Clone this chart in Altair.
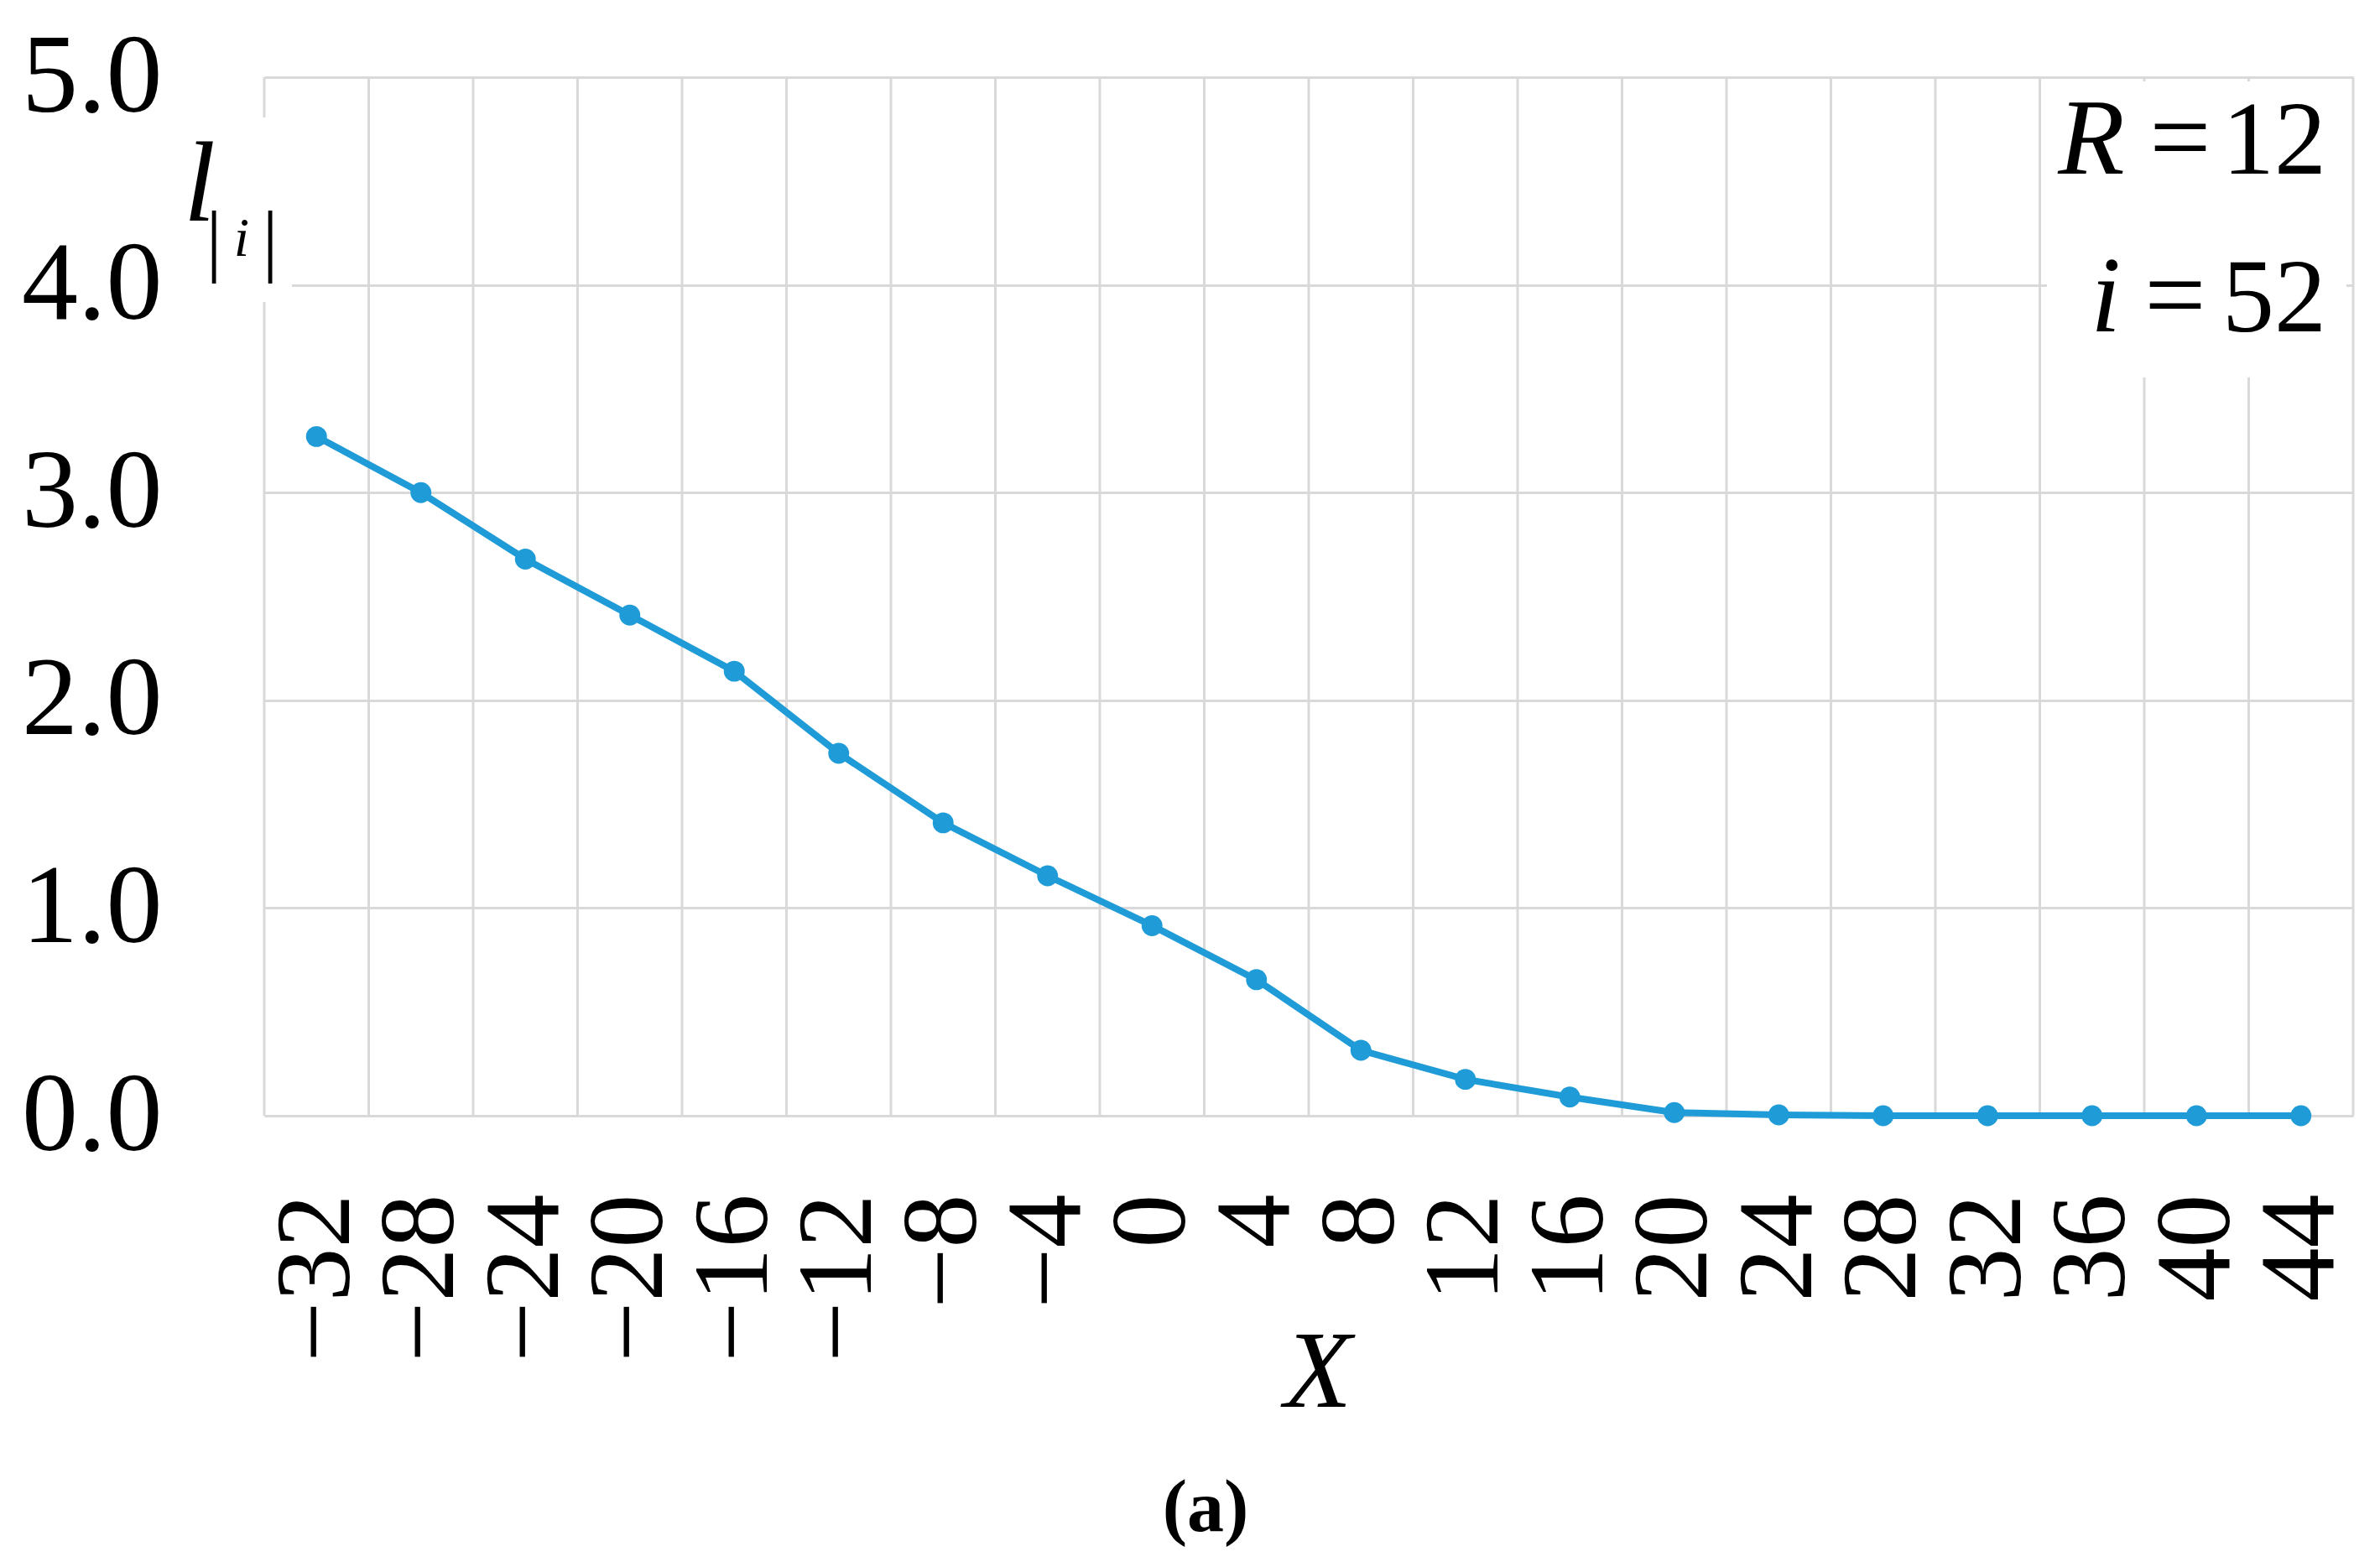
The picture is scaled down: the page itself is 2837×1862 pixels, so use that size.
import altair as alt
import pandas as pd

# Data
x_vals = [-32, -28, -24, -20, -16, -12, -8, -4, 0, 4, 8, 12, 16, 20, 24, 28, 32, 36, 40, 44]
l_vals = [3.27, 3.00, 2.68, 2.41, 2.14, 1.745, 1.41, 1.155, 0.915, 0.655, 0.315, 0.175,
          0.09, 0.015, 0.004, 0.0, 0.0, 0.0, 0.0, 0.0]
y_ticks = [0, 1, 2, 3, 4, 5]

# Band boundaries (gridlines lie halfway between categories)
half_step = 2
grid_x = [v - half_step for v in x_vals] + [x_vals[-1] + half_step]

df = pd.DataFrame({"x": x_vals, "l": l_vals})
grid_df = pd.DataFrame({"gx": grid_x})

FONT = "Liberation Serif"
BLUE = "#1f9bd7"
GRID = "#d9d9d9"

xscale = alt.Scale(domain=[grid_x[0], grid_x[-1]], nice=False, zero=False)
yscale = alt.Scale(domain=[0, 5], nice=False)

xaxis = alt.Axis(values=x_vals, format="d", labelAngle=-90, labelFont=FONT,
                 labelFontSize=128, labelColor="black", labelPadding=93,
                 ticks=False, tickSize=0, domain=False, grid=False, title=None,
                 labelOverlap=False, labelFlush=False, labelLimit=0)
yaxis = alt.Axis(values=y_ticks, format=".1f", labelFont=FONT, labelFontSize=134,
                 labelColor="black", labelPadding=122, ticks=False, tickSize=0,
                 domain=False, grid=True, gridColor=GRID, gridWidth=3, title=None,
                 labelFlush=False, labelLimit=0)

base = alt.Chart(df)

vgrid = alt.Chart(grid_df).mark_rule(color=GRID, strokeWidth=3).encode(
    x=alt.X("gx:Q", scale=xscale, axis=xaxis)
)

line = base.mark_line(color=BLUE, strokeWidth=8).encode(
    x=alt.X("x:Q", scale=xscale, axis=xaxis),
    y=alt.Y("l:Q", scale=yscale, axis=yaxis),
)
pts = base.mark_circle(color=BLUE, opacity=1, size=620).encode(
    x=alt.X("x:Q", scale=xscale, axis=xaxis),
    y=alt.Y("l:Q", scale=yscale, axis=yaxis),
)

one = alt.Data(values=[{"a": 1}])

def box(x, x2, y, y2):
    return alt.Chart(one).mark_rect(color="white").encode(
        x=alt.value(x), x2=alt.value(x2), y=alt.value(y), y2=alt.value(y2))

def txt(s, x, y, size, style="normal", weight="normal", align="left"):
    return alt.Chart(one).mark_text(
        text=s, font=FONT, fontSize=size, fontStyle=style, fontWeight=weight,
        align=align, baseline="alphabetic", color="black"
    ).encode(x=alt.value(x), y=alt.value(y))

box_r = box(2125, 2482, 5, 358)
box_l = box(-110, 33, 48, 268)

annos = [
    txt("R", 2178, 115, 130, style="italic", align="center"),
    txt("=", 2284, 115, 130, align="center"),
    txt("12", 2458, 115, 124, align="right"),
    txt("i", 2195, 303, 130, style="italic", align="center"),
    txt("=", 2278, 303, 130, align="center"),
    txt("52", 2458, 303, 124, align="right"),
    # y-axis title l_|i|
    txt("l", -77, 171, 136, style="italic", align="center"),
    txt("|", -60, 226, 96, align="center"),
    txt("i", -27, 213, 66, style="italic", align="center"),
    txt("|", 7, 226, 96, align="center"),
    # x-axis title
    txt("X", 1256, 1585, 132, style="italic", align="center"),
    # panel label
    txt("(a)", 1122, 1733, 88, weight="bold", align="center"),
]

chart = alt.layer(vgrid, box_r, box_l, line, pts, *annos).properties(
    width=2490, height=1238,
    padding={"left": 307, "top": 84, "right": 24, "bottom": 522},
    autosize=alt.AutoSizeParams(type="none"),
).configure_view(stroke=None).configure(background="white")

chart.save("out.html", embed_options={"renderer": "svg", "actions": False})
